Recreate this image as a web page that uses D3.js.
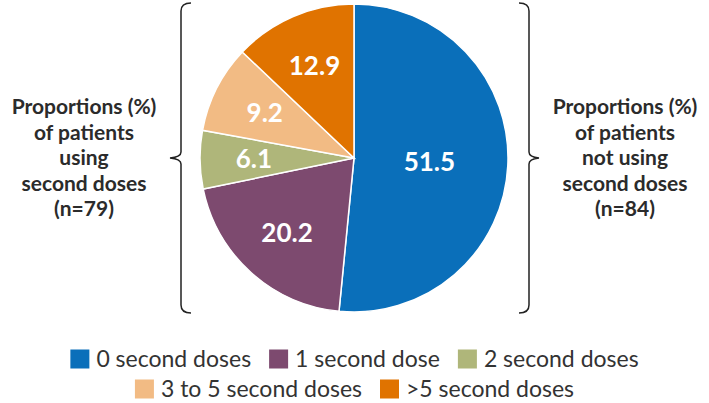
<!DOCTYPE html>
<html>
<head>
<meta charset="utf-8">
<script src="https://cdn.jsdelivr.net/npm/d3@7"></script>
<style>
  body { margin: 0; background: #fff; }
  text { font-family: Lato, "Open Sans", sans-serif; }
</style>
</head>
<body>
<div id="chart"></div>
<script>
// Data

var categories = ["0 second doses", "1 second dose", "2 second doses", "3 to 5 second doses", ">5 second doses"];
var values = [51.5, 20.2, 6.1, 9.2, 12.9];
var colors = ["#0a6fba", "#7d4a6f", "#afb67a", "#f2bb84", "#e07300"];
var leftNote = ["Proportions (%)", "of patients", "using", "second doses", "(n=79)"];
var rightNote = ["Proportions (%)", "of patients", "not using", "second doses", "(n=84)"];

var width = 709,
    height = 403;

var cx = 354, cy = 158, radius = 154;

var svg = d3.select("#chart").append("svg")
    .attr("width", width)
    .attr("height", height);

var data = categories.map(function(c, i) { return { name: c, value: values[i], color: colors[i] }; });

var pie = d3.pie()
    .sort(null)
    .value(function(d) { return d.value; });

var arc = d3.arc()
    .innerRadius(0)
    .outerRadius(radius);

var arcs = pie(data);

var g = svg.append("g")
    .attr("transform", "translate(" + cx + "," + cy + ")");

g.selectAll("path")
    .data(arcs)
  .enter().append("path")
    .attr("d", arc)
    .attr("fill", function(d) { return d.data.color; })
    .attr("stroke", "#fff")
    .attr("stroke-width", 1.5);

// Big slice label sits closer to the centre
function labelArc(d) {
  var r = d.data.value > 40 ? radius * 0.49 : radius * 0.65;
  return d3.arc().innerRadius(r).outerRadius(r).centroid(d);
}

g.selectAll("text.val")
    .data(arcs)
  .enter().append("text")
    .attr("class", "val")
    .attr("transform", function(d) { return "translate(" + labelArc(d) + ")"; })
    .attr("text-anchor", "middle")
    .attr("dy", "0.36em")
    .attr("fill", "#fff")
    .attr("font-weight", "bold")
    .attr("font-size", 26)
    .text(function(d) { return d3.format(".1f")(d.data.value); });

// Curly braces
function brace(x, tipX, y0, y1, dir) {
  // dir = -1 tip to the left, +1 tip to the right
  var p = d3.path(),
      ym = (y0 + y1) / 2,
      endX = x - dir * 10,
      k = 4;
  p.moveTo(endX, y0);
  p.quadraticCurveTo(x, y0, x, y0 + k + 4);
  p.lineTo(x, ym - 6);
  p.quadraticCurveTo(x, ym - 1, tipX, ym);
  p.quadraticCurveTo(x, ym + 1, x, ym + 6);
  p.lineTo(x, y1 - k - 4);
  p.quadraticCurveTo(x, y1, endX, y1);
  return p.toString();
}

svg.append("path")
    .attr("d", brace(181, 170, 3, 313, -1))
    .attr("fill", "none")
    .attr("stroke", "#222")
    .attr("stroke-width", 1.5);

svg.append("path")
    .attr("d", brace(529, 539, 3, 313, 1))
    .attr("fill", "none")
    .attr("stroke", "#222")
    .attr("stroke-width", 1.5);

function note(lines, x) {
  svg.append("g").selectAll("text")
      .data(lines)
    .enter().append("text")
      .attr("x", x)
      .attr("y", function(d, i) { return 114 + i * 25.5; })
      .attr("text-anchor", "middle")
      .attr("font-weight", "bold")
      .attr("font-size", 21)
      .attr("fill", "#2b2b2b")
      .text(function(d) { return d; });
}

note(leftNote, 84);
note(rightNote, 625);

// Legend, two centred rows
var rows = [[0, 1, 2], [3, 4]];
var rowY = [359, 389];
var sw = 19;

rows.forEach(function(row, ri) {
  var lg = svg.append("g");
  var x = 0;
  row.forEach(function(i) {
    var item = lg.append("g").attr("transform", "translate(" + x + ",0)");
    item.append("rect")
        .attr("x", 0)
        .attr("y", -sw / 2)
        .attr("width", sw)
        .attr("height", sw)
        .attr("fill", colors[i]);
    var t = item.append("text")
        .attr("x", sw + 7)
        .attr("dy", "0.36em")
        .attr("font-size", 23)
        .attr("fill", "#333")
        .text(categories[i]);
    x += sw + 7 + t.node().getComputedTextLength() + 18;
  });
  x -= 18;
  lg.attr("transform", "translate(" + ((width - x) / 2) + "," + rowY[ri] + ")");
});
</script>
</body>
</html>
